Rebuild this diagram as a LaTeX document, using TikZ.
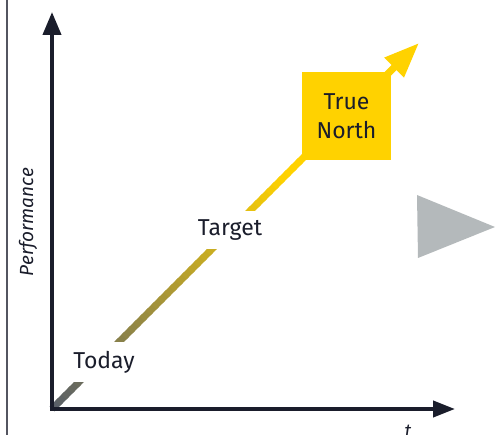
\documentclass[tikz,border=0pt]{standalone}
\usepackage{fontspec}
\setmainfont{Fira Sans}
\usetikzlibrary{arrows.meta}
\usetikzlibrary{calc}
\definecolor{axisnavy}{HTML}{1A1D2B}
\definecolor{tnyellow}{HTML}{FFD200}
\definecolor{todaygrey}{HTML}{5A6068}
\definecolor{markgrey}{HTML}{B4B9BB}

\begin{document}
\begin{tikzpicture}[line join=miter,x=1pt,y=-1pt,
  axis/.style={line width=4pt,axisnavy},
  stagebox/.style={fill=white,text=axisnavy,font=\fontsize{23}{29}\selectfont,inner xsep=2pt,inner ysep=9pt},
  axistext/.style={text=axisnavy,font=\itshape\fontsize{19}{22}\selectfont}]
\useasboundingbox (0,0) rectangle (504,435);
\draw [line width=1.5pt,axisnavy!75] (7,0)--(7,435);
\coordinate (O) at (52,409);
\coordinate (ytip) at (52,12);
\coordinate (xtip) at (455,409);
\coordinate (mid) at (340,121);
\coordinate (tip) at (419,43);
% trend line, grey to yellow
\foreach \i in {0,...,47} {
  \pgfmathsetmacro{\p}{min(100,\i*2.6)}
  \draw [line width=7pt,tnyellow!\p!todaygrey] ($(O)!\i/48!(mid)$)--($(O)!{(\i+1.4)/48}!(mid)$);
}
\draw [line width=7pt,tnyellow,-{Triangle[length=35pt,width=26pt]}] (mid)--(tip);
\draw [axis,{Triangle[length=23pt,width=18pt]}-{Triangle[length=22pt,width=16pt]}] (ytip)--(O)--(xtip);
\node [stagebox] (today) at (104,362) {Today};
\node [stagebox] (target) at (230,230) {Target};
\node [fill=tnyellow,text=axisnavy,font=\fontsize{23}{29}\selectfont,align=center,minimum width=89pt,minimum height=88pt] (north) at (346.5,116) {True\\North};
\node [axistext,rotate=90] (perf) at (28,222) {Performance};
\node [axistext,anchor=north,inner sep=0pt] (time) at (408,425) {t};
\fill [markgrey] (417,195)--(418,258)--(495,227)--cycle;
\end{tikzpicture}
\end{document}
